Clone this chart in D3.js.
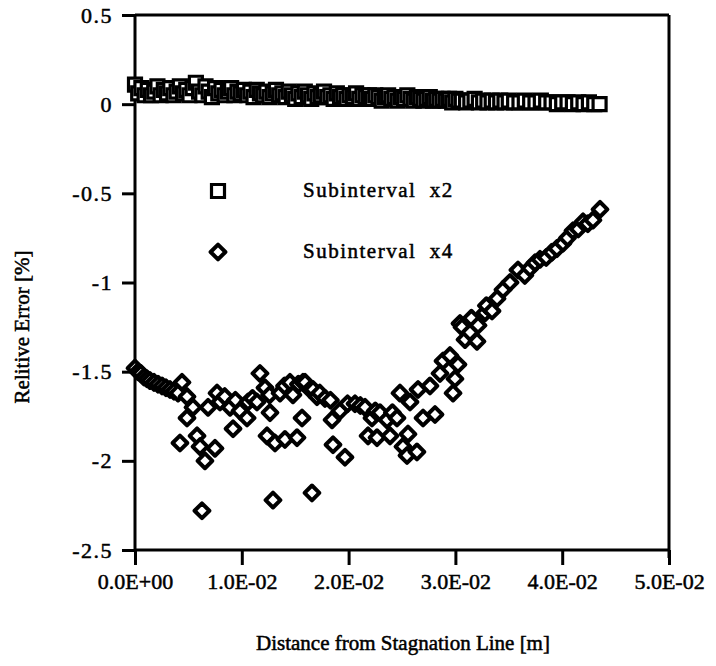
<!DOCTYPE html>
<html>
<head>
<meta charset="utf-8">
<script src="https://cdn.jsdelivr.net/npm/d3@7"></script>
<style>
  html, body { margin: 0; padding: 0; background: #fff; }
  svg text { font-family: "Liberation Serif", "Times New Roman", serif; fill: #000; stroke: #000; stroke-width: 0.5px; }
</style>
</head>
<body>
<svg id="chart" width="716" height="666"></svg>
<script>
// ---- data (x in metres, y in %) ----
const xTickValues = [0, 0.01, 0.02, 0.03, 0.04, 0.05];
const xTickLabels = ["0.0E+00", "1.0E-02", "2.0E-02", "3.0E-02", "4.0E-02", "5.0E-02"];
const yTickValues = [0.5, 0, -0.5, -1, -1.5, -2, -2.5];
const yTickLabels = ["0.5", "0", "-0.5", "-1", "-1.5", "-2", "-2.5"];
const seriesNames = ["Subinterval x2", "Subinterval x4"];

// Subinterval x2 (squares): [x*1e3, y]
const sub2 = [
  [0.0,0.11],[0.3,0.06],[0.6,0.09],[0.9,0.05],[1.2,0.08],[1.5,0.05],[1.8,0.07],[2.1,0.10],[2.4,0.05],[2.7,0.08],
  [3.0,0.06],[3.3,0.09],[3.6,0.05],[3.9,0.07],[4.2,0.10],[4.5,0.06],[4.8,0.08],[5.1,0.05],[5.4,0.09],[5.7,0.12],
  [6.0,0.07],[6.3,0.05],[6.6,0.10],[6.9,0.07],[7.2,0.04],[7.5,0.09],[7.8,0.06],[8.1,0.08],[8.4,0.05],[8.7,0.07],
  [9.0,0.09],[9.3,0.05],[9.6,0.07],[9.9,0.06],[10.2,0.08],[10.5,0.05],[10.8,0.07],[11.1,0.04],[11.4,0.08],[11.7,0.06],
  [12.0,0.05],[12.3,0.07],[12.6,0.04],[12.9,0.06],[13.2,0.08],[13.5,0.05],[13.8,0.06],[14.1,0.04],[14.4,0.07],[14.7,0.05],
  [15.0,0.03],[15.3,0.06],[15.6,0.04],[15.9,0.07],[16.2,0.05],[16.5,0.03],[16.8,0.06],[17.1,0.04],[17.4,0.05],[17.7,0.07],
  [18.0,0.04],[18.3,0.05],[18.6,0.03],[18.9,0.06],[19.2,0.04],[19.5,0.05],[19.8,0.03],[20.1,0.05],[20.4,0.04],[20.7,0.06],
  [21.0,0.03],[21.3,0.05],[21.6,0.04],[21.9,0.05],[22.2,0.03],[22.5,0.05],[22.8,0.04],[23.1,0.02],[23.4,0.04],[23.7,0.05],
  [24.0,0.03],[24.3,0.04],[24.6,0.02],[24.9,0.04],[25.2,0.03],[25.5,0.05],[25.8,0.03],[26.1,0.02],[26.4,0.04],[26.7,0.03],
  [27.0,0.02],[27.3,0.03],[27.6,0.04],[27.9,0.02],[28.2,0.03],[28.5,0.02],[28.8,0.03],[29.1,0.02],[29.4,0.03],[29.7,0.01],
  [30.0,0.03],[30.3,0.02],[30.6,0.02],[31.0,0.01],[31.4,0.02],[31.8,0.03],[32.2,0.01],[32.6,0.02],[33.0,0.01],[33.4,0.02],
  [33.8,0.01],[34.2,0.02],[34.6,0.01],[35.0,0.02],[35.5,0.01],[36.0,0.01],[36.5,0.02],[37.0,0.01],[37.5,0.01],[38.0,0.02],
  [38.5,0.01],[39.0,0.01],[39.5,0.0],[40.0,0.01],[40.5,0.01],[41.0,0.0],[41.5,0.01],[42.0,0.0],[42.5,0.01],[43.0,0.0],[43.5,0.0]
];

// Subinterval x4 (diamonds): [x*1e3, y]
const sub4 = [
  [0.0,-1.48],[0.28,-1.50],[0.56,-1.51],[0.84,-1.53],[1.12,-1.54],[1.40,-1.55],[1.78,-1.56],[2.15,-1.57],[2.53,-1.58],[2.90,-1.59],
  [3.28,-1.60],[3.65,-1.61],[4.03,-1.62],[4.40,-1.56],[4.87,-1.64],[5.43,-1.70],[4.87,-1.76],[4.21,-1.90],[5.81,-1.86],[6.09,-1.92],
  [6.55,-2.00],[7.49,-1.93],[6.27,-2.28],[7.68,-1.62],[6.84,-1.70],[7.96,-1.67],[8.40,-1.64],[8.90,-1.70],[9.18,-1.82],[9.40,-1.66],
  [9.83,-1.72],[10.49,-1.76],[10.58,-1.67],[11.00,-1.65],[11.42,-1.67],[11.70,-1.51],[12.17,-1.59],[12.60,-1.63],[12.64,-1.73],[12.36,-1.86],
  [13.11,-1.90],[12.92,-2.22],[13.58,-1.62],[14.00,-1.58],[14.04,-1.88],[14.51,-1.56],[14.79,-1.63],[15.17,-1.87],[15.30,-1.57],[15.64,-1.76],
  [15.73,-1.56],[15.92,-1.56],[16.39,-1.60],[16.57,-2.18],[16.67,-1.60],[17.04,-1.64],[17.30,-1.62],[17.79,-1.65],[18.30,-1.66],[18.45,-1.77],
  [18.54,-1.91],[19.19,-1.72],[19.66,-1.98],[19.90,-1.68],[20.60,-1.68],[21.10,-1.69],[21.54,-1.70],[21.82,-1.86],[22.19,-1.76],[22.50,-1.72],
  [22.66,-1.87],[22.94,-1.73],[23.60,-1.77],[23.88,-1.86],[24.10,-1.73],[24.53,-1.76],[24.81,-1.62],[25.09,-1.92],[25.47,-1.97],[25.56,-1.85],
  [25.75,-1.67],[26.40,-1.95],[26.50,-1.60],[26.97,-1.76],[27.62,-1.58],[28.09,-1.74],[28.56,-1.51],[28.84,-1.44],[29.49,-1.41],[29.78,-1.62],
  [29.96,-1.54],[30.24,-1.46],[30.43,-1.23],[30.62,-1.25],[30.90,-1.32],[31.37,-1.28],[31.50,-1.20],[32.02,-1.33],[32.12,-1.24],[32.77,-1.17],
  [32.90,-1.13],[33.43,-1.16],[33.90,-1.09],[34.46,-1.04],[35.11,-1.00],[35.86,-0.93],[36.50,-0.96],[36.99,-0.92],[37.45,-0.89],[37.92,-0.87],
  [38.50,-0.86],[39.04,-0.83],[39.50,-0.81],[40.07,-0.78],[40.50,-0.75],[41.01,-0.71],[41.50,-0.70],[41.95,-0.66],[42.40,-0.67],[42.88,-0.65],
  [43.54,-0.59]
];

// ---- layout ----
const svg = d3.select("#chart");
const pLeft = 135, pRight = 669, pTop = 15, pBottom = 550;
const x = d3.scaleLinear().domain([0, 0.05]).range([pLeft, pRight]);
const y = d3.scaleLinear().domain([-2.5, 0.5]).range([pBottom, pTop]);

// frame lines (top and right)
svg.append("line").attr("x1", pLeft).attr("x2", pRight).attr("y1", pTop).attr("y2", pTop)
  .attr("stroke", "#000").attr("stroke-width", 3);
svg.append("line").attr("x1", pRight).attr("x2", pRight).attr("y1", pTop).attr("y2", pBottom + 8)
  .attr("stroke", "#000").attr("stroke-width", 3);

// y axis
const yAxis = d3.axisLeft(y).tickValues(yTickValues).tickSize(13).tickPadding(9)
  .tickFormat((d, i) => yTickLabels[i]);
const gy = svg.append("g").attr("transform", `translate(${pLeft},0)`).call(yAxis);
gy.select(".domain").attr("stroke-width", 3).attr("d", `M0,${pTop}V${pBottom}`);
gy.selectAll(".tick line").attr("stroke-width", 3);
gy.selectAll(".tick text").attr("font-size", 22).attr("font-family", "Liberation Serif")
  .attr("letter-spacing", 1.5);

// x axis
const xAxis = d3.axisBottom(x).tickValues(xTickValues).tickSize(15).tickPadding(8)
  .tickFormat((d, i) => xTickLabels[i]);
const gx = svg.append("g").attr("transform", `translate(0,${pBottom})`).call(xAxis);
gx.select(".domain").attr("stroke-width", 3).attr("d", `M${pLeft},0H${pRight}`);
gx.selectAll(".tick line").attr("stroke-width", 3);
gx.selectAll(".tick text").attr("font-size", 22).attr("font-family", "Liberation Serif");

// marker shapes
const sq = 13, dm = 7.4;
function squarePath(cx, cy) { const h = sq / 2; return `M${cx-h},${cy-h}h${sq}v${sq}h${-sq}Z`; }
function diamondPath(cx, cy) { return `M${cx},${cy-dm}L${cx+dm},${cy}L${cx},${cy+dm}L${cx-dm},${cy}Z`; }

// squares
svg.append("g").selectAll("path").data(sub2).join("path")
  .attr("d", d => squarePath(x(d[0] / 1000), y(d[1])))
  .attr("fill", "#fff").attr("stroke", "#000").attr("stroke-width", 3.2);

// diamonds
svg.append("g").selectAll("path").data(sub4).join("path")
  .attr("d", d => diamondPath(x(d[0] / 1000), y(d[1])))
  .attr("fill", "#fff").attr("stroke", "#000").attr("stroke-width", 4)
  .attr("stroke-linejoin", "round");

// legend
const lg = svg.append("g");
lg.append("path").attr("d", squarePath(218, 191)).attr("fill", "#fff").attr("stroke", "#000").attr("stroke-width", 3.2);
lg.append("path").attr("d", diamondPath(218, 252)).attr("fill", "#fff").attr("stroke", "#000").attr("stroke-width", 4)
  .attr("stroke-linejoin", "round");
lg.append("text").attr("x", 303).attr("y", 197).attr("font-size", 21).attr("letter-spacing", 1.5)
  .attr("xml:space", "preserve").text(seriesNames[0].replace(" x", "  x"));
lg.append("text").attr("x", 303).attr("y", 258).attr("font-size", 21).attr("letter-spacing", 1.5)
  .attr("xml:space", "preserve").text(seriesNames[1].replace(" x", "  x"));

// axis titles
svg.append("text").attr("x", 403).attr("y", 650).attr("text-anchor", "middle")
  .attr("font-size", 21).text("Distance from Stagnation Line [m]");
svg.append("text").attr("transform", "translate(29,327) rotate(-90)").attr("text-anchor", "middle")
  .attr("font-size", 21).text("Relitive Error [%]");
</script>
</body>
</html>
